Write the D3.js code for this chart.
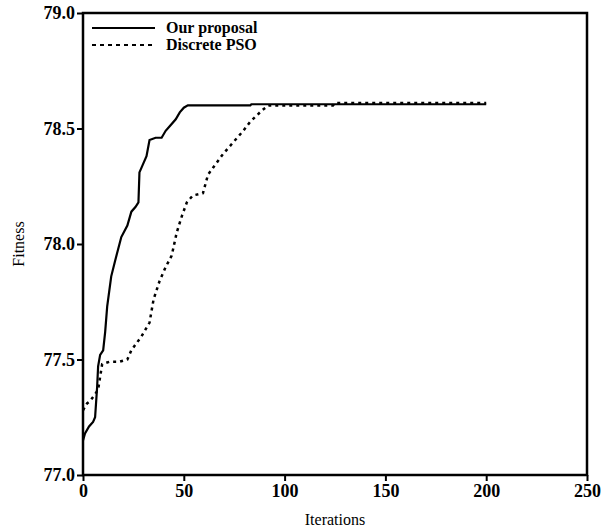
<!DOCTYPE html>
<html>
<head>
<meta charset="utf-8">
<script src="https://cdn.jsdelivr.net/npm/d3@7"></script>
<style>
  body { margin: 0; background: #fff; }
  text { font-family: "Liberation Serif", "Times New Roman", serif; fill: #000; }
</style>
</head>
<body>
<div id="chart"></div>
<script>
// chart data
const seriesNames = ["Our proposal", "Discrete PSO"];
const xTicks = [0, 50, 100, 150, 200, 250];
const yTicks = [77.0, 77.5, 78.0, 78.5, 79.0];

// Our proposal (solid)
const oursIter = [0, 1, 3, 5, 6, 7, 7.5, 8.5, 10, 11, 12, 14, 16, 19, 22, 24, 26, 27.5, 28, 30, 31.5, 33, 36, 39, 41, 43, 46, 48, 50, 52, 83, 83.5, 200];
const oursFit  = [77.15, 77.18, 77.21, 77.23, 77.25, 77.38, 77.47, 77.52, 77.54, 77.62, 77.73, 77.86, 77.93, 78.03, 78.08, 78.14, 78.16, 78.18, 78.31, 78.35, 78.38, 78.45, 78.46, 78.46, 78.49, 78.51, 78.54, 78.57, 78.59, 78.60, 78.60, 78.605, 78.605];

// Discrete PSO (dotted)
const psoIter = [0, 2, 3.5, 6, 7.5, 9.5, 13, 18, 22, 24, 29, 33, 35, 38, 41, 44, 46.5, 49, 51.5, 54.5, 59.5, 62, 64.5, 69.5, 74.5, 79.5, 83, 89, 92, 100, 124, 125, 200];
const psoFit  = [77.28, 77.31, 77.32, 77.35, 77.37, 77.48, 77.49, 77.49, 77.50, 77.54, 77.60, 77.66, 77.76, 77.84, 77.90, 77.95, 78.05, 78.12, 78.18, 78.21, 78.22, 78.30, 78.33, 78.39, 78.44, 78.49, 78.53, 78.58, 78.60, 78.60, 78.60, 78.61, 78.61];

const width = 611;
const height = 531;
const margin = {left: 83, right: 24, top: 13, bottom: 56};

const svg = d3.select("#chart")
  .append("svg")
  .attr("width", width)
  .attr("height", height);

const xScale = d3.scaleLinear()
  .domain([0, 250])
  .range([margin.left, width - margin.right]);

const yScale = d3.scaleLinear()
  .domain([77, 79])
  .range([height - margin.bottom, margin.top]);

// frame
svg.append("rect")
  .attr("x", xScale(0))
  .attr("y", yScale(79))
  .attr("width", xScale(250) - xScale(0))
  .attr("height", yScale(77) - yScale(79))
  .attr("fill", "none")
  .attr("stroke", "#000")
  .attr("stroke-width", 2.5);

// y axis
const yAxis = svg.append("g")
  .attr("transform", `translate(${xScale(0)},0)`)
  .call(d3.axisLeft(yScale).tickValues(yTicks).tickFormat(d3.format(".1f")).tickSize(6).tickPadding(2));
yAxis.select(".domain").remove();
yAxis.selectAll("line").attr("stroke-width", 2);
yAxis.selectAll("text")
  .attr("font-size", "18px")
  .attr("font-weight", "bold")
  .attr("font-family", "Liberation Serif, serif");

// x axis
const xAxis = svg.append("g")
  .attr("transform", `translate(0,${yScale(77)})`)
  .call(d3.axisBottom(xScale).tickValues(xTicks).tickSize(6).tickPadding(3));
xAxis.select(".domain").remove();
xAxis.selectAll("line").attr("stroke-width", 2);
xAxis.selectAll("text")
  .attr("font-size", "18px")
  .attr("font-weight", "bold")
  .attr("font-family", "Liberation Serif, serif");

// axis titles
svg.append("text")
  .attr("x", (xScale(0) + xScale(250)) / 2)
  .attr("y", 525)
  .attr("text-anchor", "middle")
  .attr("font-size", "16px")
  .text("Iterations");

svg.append("text")
  .attr("transform", `translate(24,${(yScale(77) + yScale(79)) / 2}) rotate(-90)`)
  .attr("text-anchor", "middle")
  .attr("font-size", "16px")
  .text("Fitness");

// lines
const lineGen = d3.line()
  .x(d => xScale(d[0]))
  .y(d => yScale(d[1]));

const oursData = oursIter.map((v, i) => [v, oursFit[i]]);
const psoData = psoIter.map((v, i) => [v, psoFit[i]]);

svg.append("path")
  .datum(psoData)
  .attr("d", lineGen)
  .attr("fill", "none")
  .attr("stroke", "#000")
  .attr("stroke-width", 2.5)
  .attr("stroke-dasharray", "3,4");

svg.append("path")
  .datum(oursData)
  .attr("d", lineGen)
  .attr("fill", "none")
  .attr("stroke", "#000")
  .attr("stroke-width", 2.2);

// legend
const legend = svg.append("g");
const dashes = [null, "4,4"];
seriesNames.forEach((name, i) => {
  const ly = 28 + i * 17;
  legend.append("line")
    .attr("x1", 92).attr("x2", 155)
    .attr("y1", ly).attr("y2", ly)
    .attr("stroke", "#000")
    .attr("stroke-width", 2.2)
    .attr("stroke-dasharray", dashes[i]);
  legend.append("text")
    .attr("x", 166)
    .attr("y", ly + 5)
    .attr("font-size", "16px")
    .attr("font-weight", "bold")
    .text(name);
});
</script>
</body>
</html>
